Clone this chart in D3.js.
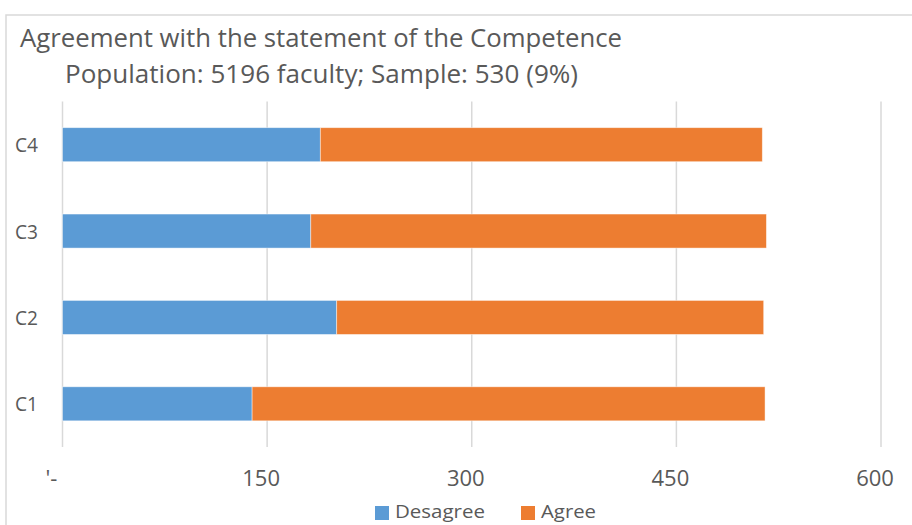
<!DOCTYPE html>
<html>
<head>
<meta charset="utf-8">
<script src="https://cdn.jsdelivr.net/npm/d3@7"></script>
<style>
  html, body { margin: 0; padding: 0; background: #fff; }
  svg { display: block; }
  text { font-family: "Open Sans", sans-serif; fill: #595959; }
</style>
</head>
<body>
<svg id="chart" width="912" height="525"></svg>
<script>
// Competence items, bottom-to-top order as listed in the survey
const categories = ["C1", "C2", "C3", "C4"];
const disagree = [139, 201, 182, 189];
const agree = [376, 313, 334, 324];
const seriesNames = ["Desagree", "Agree"];
const seriesColors = ["#5B9BD5", "#ED7D31"];
const tickValues = [0, 150, 300, 450, 600];
const tickLabels = ["'-", "150", "300", "450", "600"];
const titleLines = [
  "Agreement with the statement of the Competence",
  "Population: 5196 faculty; Sample: 530 (9%)"
];

const svg = d3.select("#chart");

// Chart-area frame (light outline along top and left)
svg.append("path")
  .attr("d", "M6,530 L6,15 L920,15")
  .attr("fill", "none")
  .attr("stroke", "#D9D9D9")
  .attr("stroke-width", 1.5);

const plot = { left: 62.5, right: 881, top: 101.5, bottom: 447 };

const x = d3.scaleLinear().domain([0, 600]).range([plot.left, plot.right]);
const y = d3.scaleBand()
  .domain(categories.slice().reverse())
  .range([plot.top, plot.bottom])
  .paddingInner(0.606)
  .paddingOuter(0.303);

// Squeeze text to a set width (narrow office-style face)
function fit(sel, w) {
  sel.attr("textLength", w).attr("lengthAdjust", "spacingAndGlyphs");
}

// Title
svg.append("text")
  .attr("x", 321).attr("y", 47)
  .attr("text-anchor", "middle")
  .style("font-size", "25px")
  .text(titleLines[0])
  .call(fit, 602);
svg.append("text")
  .attr("x", 321.5).attr("y", 83)
  .attr("text-anchor", "middle")
  .style("font-size", "25px")
  .text(titleLines[1])
  .call(fit, 513);

// Vertical gridlines
svg.append("g")
  .selectAll("line")
  .data(tickValues)
  .join("line")
  .attr("x1", d => x(d)).attr("x2", d => x(d))
  .attr("y1", plot.top).attr("y2", plot.bottom)
  .attr("stroke", "#D9D9D9")
  .attr("stroke-width", 1.5);

// Stacked bars
const stackData = categories.map((c, i) => ({ cat: c, Desagree: disagree[i], Agree: agree[i] }));
const stack = d3.stack().keys(seriesNames)(stackData);

svg.append("g")
  .selectAll("g")
  .data(stack)
  .join("g")
  .attr("fill", (d, i) => seriesColors[i])
  .selectAll("rect")
  .data(d => d)
  .join("rect")
  .attr("x", d => x(d[0]))
  .attr("width", d => x(d[1]) - x(d[0]))
  .attr("y", d => y(d.data.cat))
  .attr("height", y.bandwidth())
  .attr("stroke", "#fff")
  .attr("stroke-opacity", 0.55)
  .attr("stroke-width", 0.8);

// Category labels
svg.append("g")
  .selectAll("text")
  .data(categories)
  .join("text")
  .attr("x", 15)
  .attr("y", d => y(d) + y.bandwidth() / 2 + 7.5)
  .style("font-size", "20px")
  .text(d => d)
  .call(fit, 23);

// Value-axis labels (accounting style, sitting slightly left of each gridline)
svg.append("g")
  .selectAll("text")
  .data(tickValues)
  .join("text")
  .attr("x", d => x(d) + (d === 0 ? -11 : -6))
  .attr("y", 486)
  .attr("text-anchor", "middle")
  .style("font-size", "22px")
  .text((d, i) => tickLabels[i]);

// Legend
const legendItems = [
  { name: seriesNames[0], color: seriesColors[0], x: 375, w: 90 },
  { name: seriesNames[1], color: seriesColors[1], x: 521, w: 55 }
];
const lg = svg.append("g")
  .selectAll("g")
  .data(legendItems)
  .join("g");
lg.append("rect")
  .attr("x", d => d.x).attr("y", 506)
  .attr("width", 14).attr("height", 14)
  .attr("fill", d => d.color);
lg.append("text")
  .attr("x", d => d.x + 20).attr("y", 518)
  .style("font-size", "19px")
  .text(d => d.name)
  .each(function(d) { d3.select(this).call(fit, d.w); });
</script>
</body>
</html>
